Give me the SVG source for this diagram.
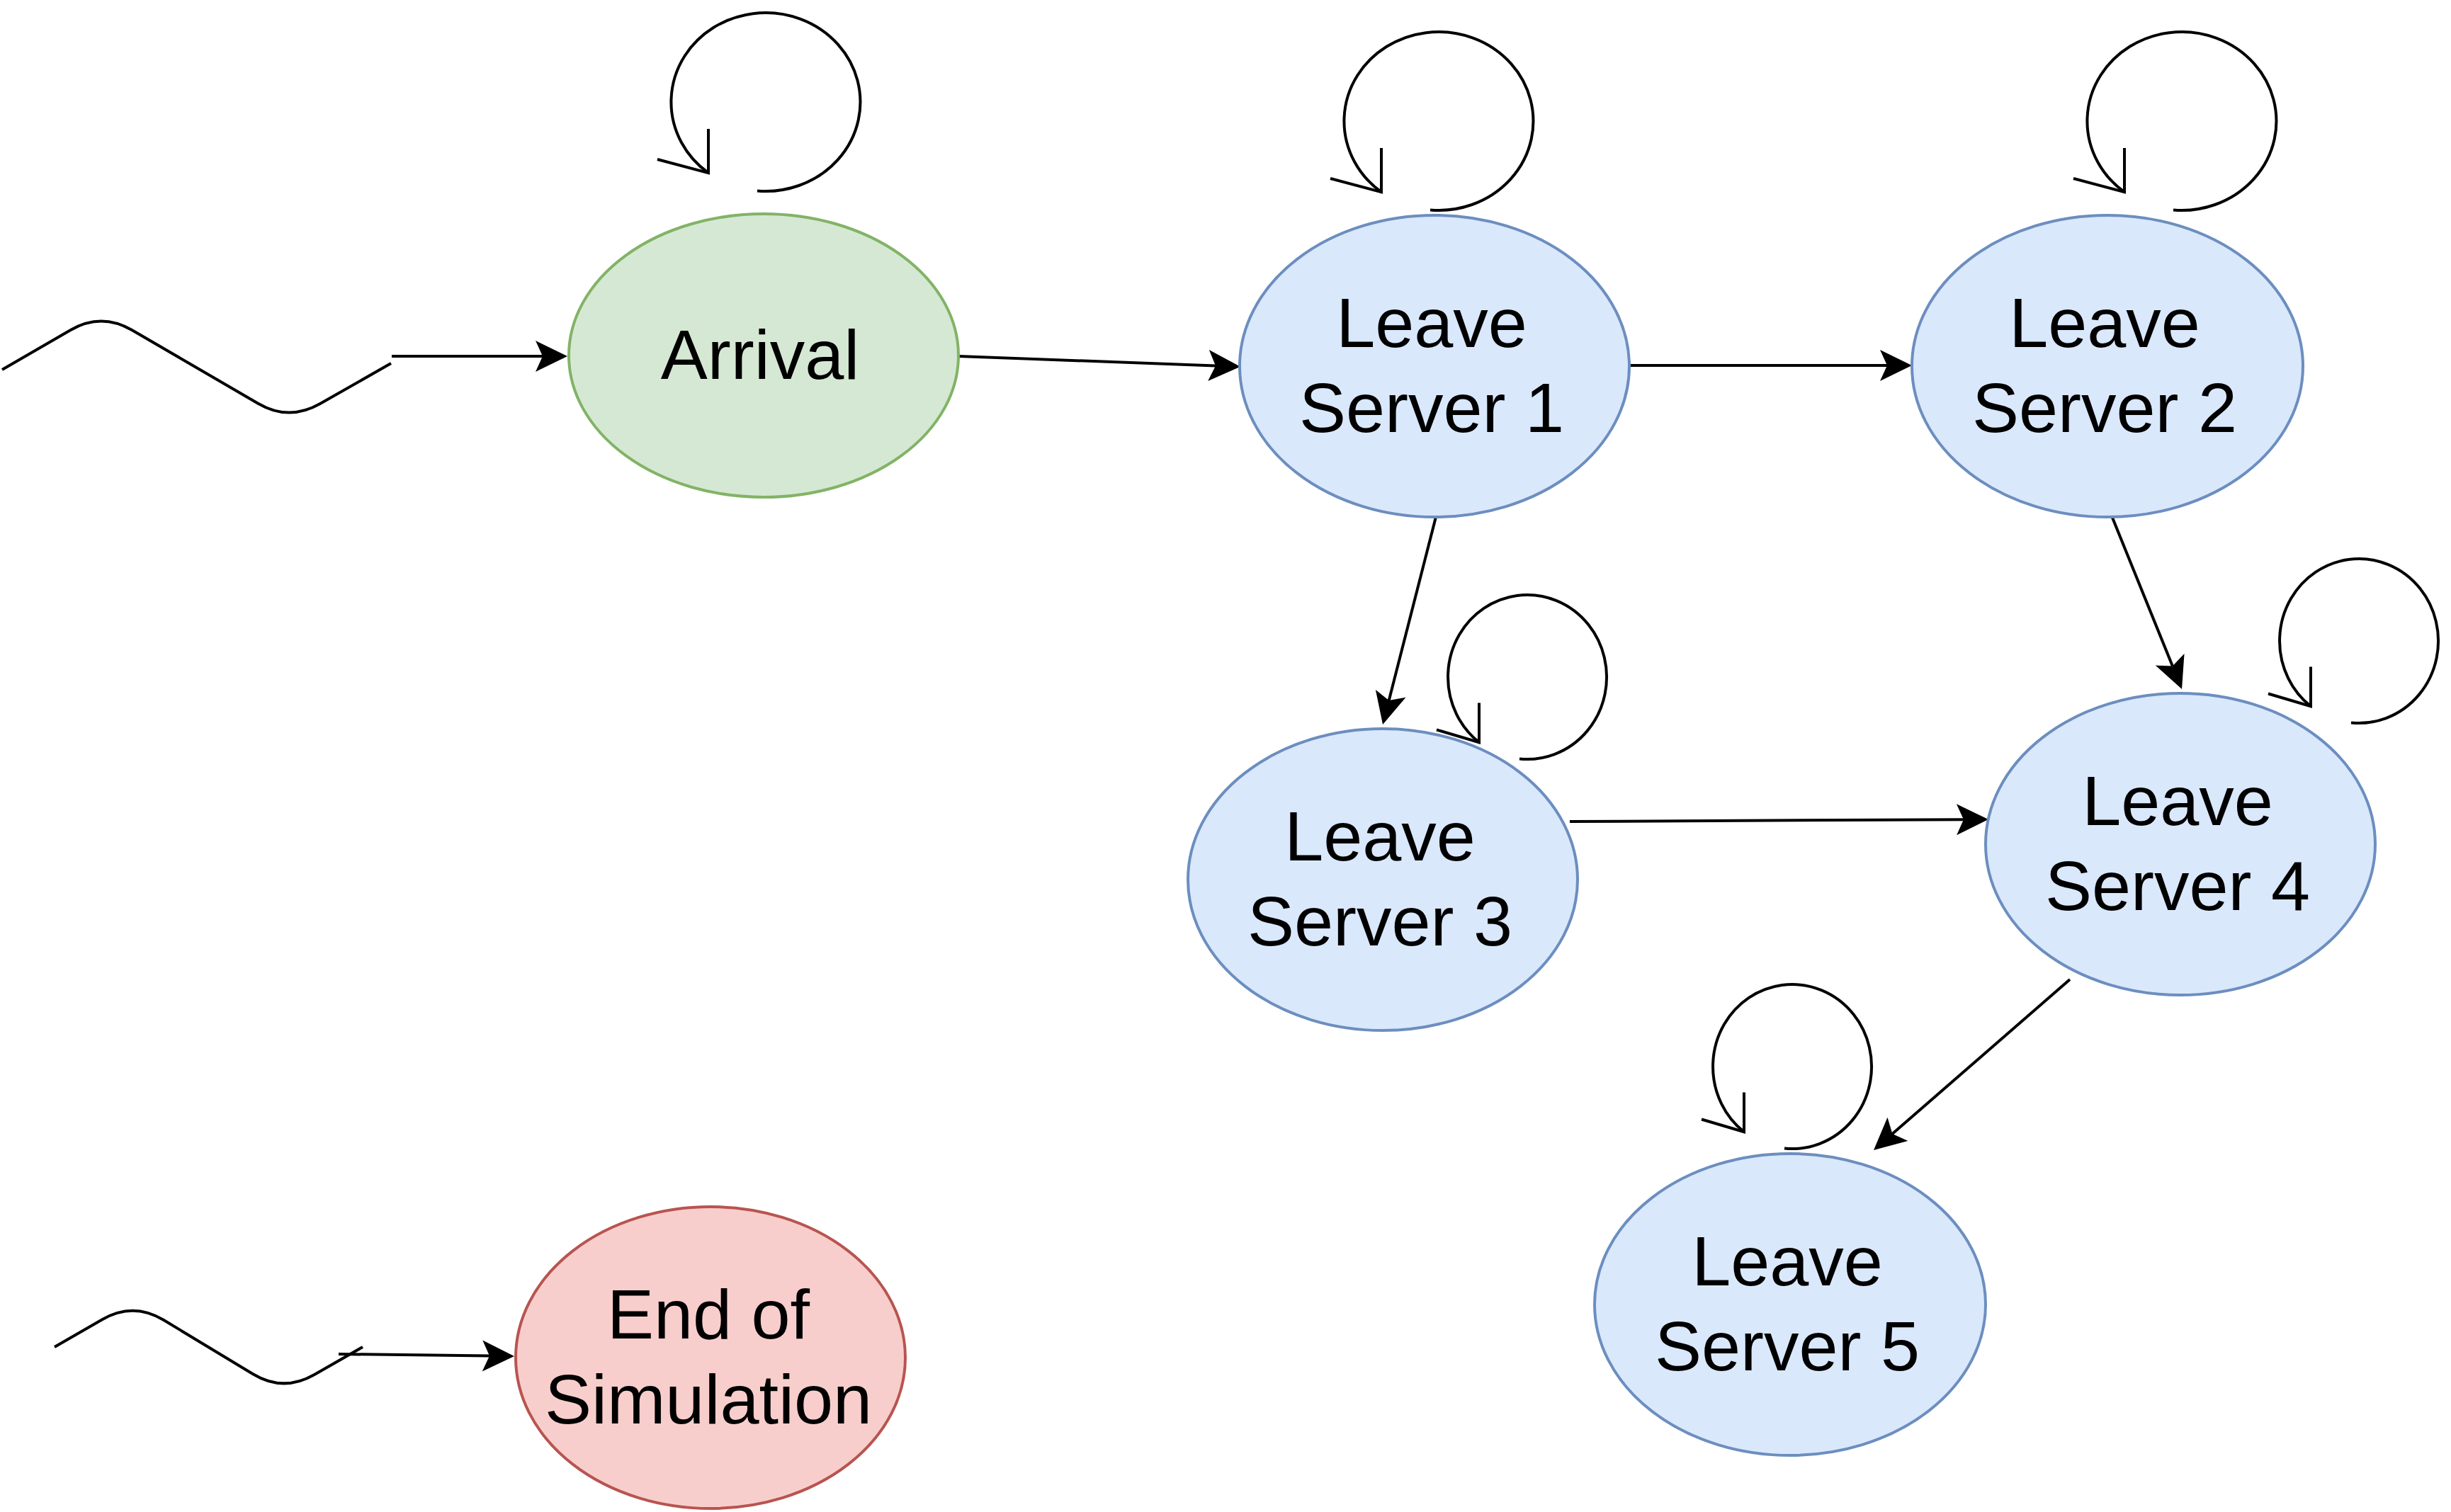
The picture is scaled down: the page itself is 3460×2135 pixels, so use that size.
<svg xmlns="http://www.w3.org/2000/svg" xmlns:xlink="http://www.w3.org/1999/xlink" width="3460" height="2135" viewBox="0 0 3460 2135">
<style>
.node ellipse{stroke-width:4}
.blue ellipse{fill:#dae8fc;stroke:#6c8ebf}
.green ellipse{fill:#d5e8d4;stroke:#82b366}
.red ellipse{fill:#f8cecc;stroke:#b85450}
.node text{font-family:"Liberation Sans",Arial,Helvetica,sans-serif;font-size:99px;fill:#000;text-anchor:middle}
.edge{fill:none;stroke:#000;stroke-width:4}
.arr{marker-end:url(#arrow)}
</style>
<defs>
<marker id="arrow" markerUnits="userSpaceOnUse" viewBox="-46 -24 48 48" markerWidth="48" markerHeight="48" refX="-35" refY="0" orient="auto" overflow="visible">
<path d="M0,0 L-45,-22 L-35,0 L-45,22 Z" fill="#000" stroke="none"/>
</marker>
<g id="loopBig" fill="none" stroke="#000" stroke-width="4">
<path d="M-12,125.5 A133.5,126 0 1 0 -81,100.2"/>
<path d="M-81,38 L-81,100.2 L-153,81"/>
</g>
<g id="loopSmall" fill="none" stroke="#000" stroke-width="4">
<path d="M-11,115.5 A112,116 0 1 0 -68,92.2"/>
<path d="M-68,36.5 L-68,92.2 L-128,74.5"/>
</g>
</defs>
<rect width="3460" height="2135" fill="#fff"/>
<g id="connectors">
<path class="edge" d="M3,522 L99.7,466 Q143,441 186.2,466.1 L364.8,569.9 Q408,595 451.5,570.3 L552,513"/>
<path class="edge" d="M77,1902 L144.7,1863 Q188,1838 230.8,1863.8 L357.2,1940.2 Q400,1966 443.4,1941.2 L512,1902"/>
<path class="edge arr" d="M553,503 L766,503"/>
<path class="edge arr" d="M478,1912 L691,1914.6"/>
<path class="edge arr" d="M1353,503 L1716,516.4"/>
<path class="edge arr" d="M2302,516 L2664,516"/>
<path class="edge arr" d="M2028,726 L1960.7,989.1"/>
<path class="edge arr" d="M2980,726 L3066.9,940.6"/>
<path class="edge arr" d="M2216,1160 L2772,1157.2"/>
<path class="edge arr" d="M2922,1383 L2671.4,1601"/>
<use xlink:href="#loopBig" href="#loopBig" x="1081" y="144"/>
<use xlink:href="#loopBig" href="#loopBig" x="2031" y="171"/>
<use xlink:href="#loopBig" href="#loopBig" x="3080" y="171"/>
<use xlink:href="#loopSmall" href="#loopSmall" x="2156" y="956"/>
<use xlink:href="#loopSmall" href="#loopSmall" x="3330" y="905"/>
<use xlink:href="#loopSmall" href="#loopSmall" x="2530" y="1506"/>
</g>
<g id="arrival" class="node green">
<ellipse cx="1078" cy="502" rx="275" ry="200"/>
<text x="1073" y="535">Arrival</text>
</g>
<g id="leave1" class="node blue">
<ellipse cx="2025" cy="517" rx="275" ry="213"/>
<text x="2021" y="490">Leave</text>
<text x="2021" y="610">Server 1</text>
</g>
<g id="leave2" class="node blue">
<ellipse cx="2975" cy="517" rx="276" ry="213"/>
<text x="2971" y="490">Leave</text>
<text x="2971" y="610">Server 2</text>
</g>
<g id="leave3" class="node blue">
<ellipse cx="1952" cy="1242" rx="275" ry="213"/>
<text x="1948" y="1215">Leave</text>
<text x="1948" y="1335">Server 3</text>
</g>
<g id="leave4" class="node blue">
<ellipse cx="3078" cy="1192" rx="275" ry="213"/>
<text x="3074" y="1165">Leave</text>
<text x="3074" y="1285">Server 4</text>
</g>
<g id="leave5" class="node blue">
<ellipse cx="2527" cy="1842" rx="276" ry="213"/>
<text x="2523" y="1815">Leave</text>
<text x="2523" y="1935">Server 5</text>
</g>
<g id="end" class="node red">
<ellipse cx="1003" cy="1917" rx="275" ry="213"/>
<text x="1000" y="1890">End of</text>
<text x="1000" y="2010">Simulation</text>
</g>
</svg>
